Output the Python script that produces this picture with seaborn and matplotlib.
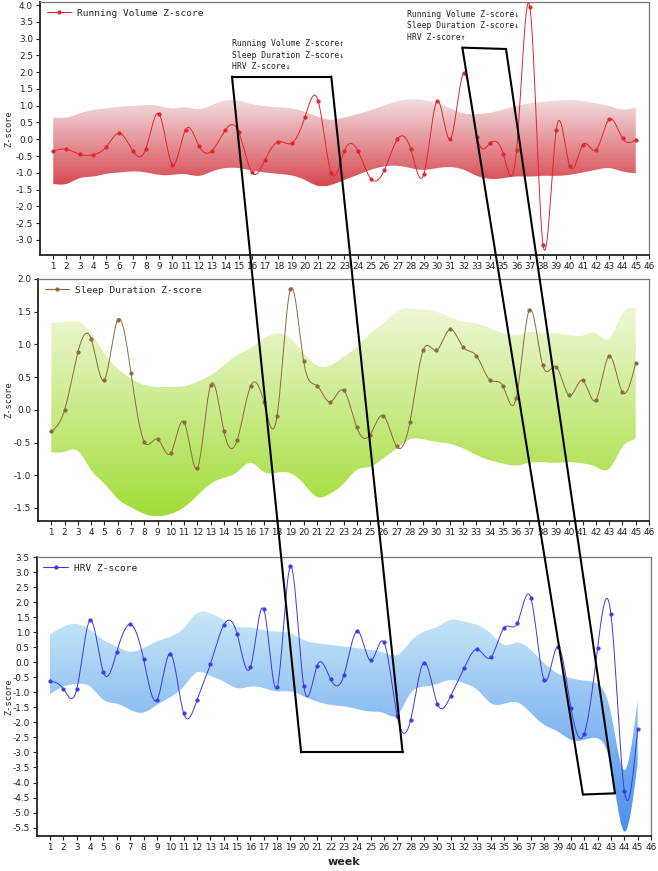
import numpy as np
import pandas as pd
import matplotlib
matplotlib.use("Agg")
import matplotlib.pyplot as plt
import seaborn as sns
from matplotlib.colors import LinearSegmentedColormap
from matplotlib.lines import Line2D
from matplotlib.patches import ConnectionPatch

# ---------------- data ----------------
weeks = np.arange(1, 46)

run_z = [-0.35, -0.30, -0.45, -0.46, -0.23, 0.18, -0.34, -0.28, 0.75, -0.76,
         0.29, -0.19, -0.34, 0.28, 0.22, -0.99, -0.61, -0.07, -0.12, 0.65,
         1.15, -1.01, -0.34, -0.34, -1.18, -0.93, 0.00, -0.29, -1.04, 1.14,
         0.00, 1.96, 0.08, -0.12, -0.45, -0.31, 3.95, -3.15, 0.28, -0.79,
         -0.17, -0.32, 0.60, 0.03, -0.02]
run_hi = [0.65, 0.65, 0.77, 0.87, 0.92, 0.97, 0.99, 1.02, 0.99, 0.92,
          0.95, 0.90, 1.02, 1.15, 1.15, 1.05, 0.99, 0.95, 0.92, 0.82,
          0.67, 0.58, 0.65, 0.75, 0.87, 1.01, 1.14, 1.19, 1.17, 1.07,
          0.92, 0.77, 0.75, 0.79, 0.89, 0.99, 1.07, 1.12, 1.15, 1.17,
          1.14, 1.07, 0.99, 0.89, 0.95]
run_lo = [-1.33, -1.33, -1.16, -1.11, -1.03, -0.99, -0.96, -0.99, -1.06, -1.06,
          -1.04, -1.09, -0.96, -0.86, -0.86, -0.93, -0.99, -1.03, -1.08, -1.21,
          -1.39, -1.36, -1.21, -1.06, -0.91, -0.81, -0.79, -0.86, -0.91, -0.86,
          -0.83, -0.91, -1.09, -1.18, -1.16, -1.11, -1.11, -1.09, -1.09, -1.06,
          -0.99, -0.91, -0.86, -0.96, -1.01]

sleep_z = [-0.33, 0.00, 0.88, 1.08, 0.46, 1.38, 0.56, -0.49, -0.45, -0.66,
           -0.19, -0.89, 0.38, -0.33, -0.46, 0.36, 0.12, -0.09, 1.84, 0.74,
           0.37, 0.12, 0.30, -0.27, -0.38, -0.09, -0.56, -0.19, 0.91, 0.91,
           1.23, 0.96, 0.83, 0.46, 0.36, 0.18, 1.53, 0.68, 0.66, 0.22,
           0.45, 0.15, 0.82, 0.27, 0.72]
sleep_hi = [1.33, 1.34, 1.35, 1.17, 0.86, 0.63, 0.48, 0.38, 0.35, 0.35,
            0.36, 0.43, 0.53, 0.68, 0.84, 0.94, 1.09, 1.17, 1.09, 0.86,
            0.68, 0.68, 0.81, 0.96, 1.17, 1.32, 1.50, 1.55, 1.53, 1.50,
            1.42, 1.35, 1.32, 1.25, 1.17, 1.14, 1.19, 1.17, 1.17, 1.14,
            1.14, 1.17, 1.09, 1.47, 1.55]
sleep_lo = [-0.65, -0.64, -0.63, -0.92, -1.13, -1.36, -1.49, -1.59, -1.63, -1.59,
            -1.49, -1.31, -1.13, -1.04, -0.95, -0.81, -0.95, -0.96, -0.97, -1.13,
            -1.33, -1.28, -1.13, -0.92, -0.87, -0.74, -0.59, -0.45, -0.45, -0.49,
            -0.52, -0.59, -0.69, -0.77, -0.82, -0.85, -0.81, -0.80, -0.81, -0.80,
            -0.82, -0.87, -0.90, -0.57, -0.45]

hrv_z = [-0.63, -0.89, -0.89, 1.40, -0.34, 0.35, 1.26, 0.11, -1.26, 0.29,
         -1.69, -1.26, -0.07, 1.23, 0.95, -0.17, 1.76, -0.84, 3.19, -0.80,
         -0.11, -0.56, -0.44, 1.04, 0.06, 0.66, -1.80, -1.92, -0.01, -1.38,
         -1.12, -0.20, 0.43, 0.16, 1.15, 1.32, 2.14, -0.59, 0.52, -1.51,
         -2.38, 0.49, 1.59, -4.27, -2.23]
hrv_hi = [0.93, 1.18, 1.27, 1.07, 0.74, 0.52, 0.35, 0.47, 0.69, 0.85,
          1.13, 1.63, 1.63, 1.41, 1.18, 1.16, 1.07, 1.02, 0.96, 0.74,
          0.63, 0.58, 0.52, 0.47, 0.41, 0.32, 0.24, 0.69, 1.02, 1.18,
          1.41, 1.35, 1.24, 0.96, 0.58, 0.65, 0.41, -0.03, -0.37, -0.53,
          -0.61, -0.72, -1.69, -3.58, -1.25]
hrv_lo = [-1.06, -0.81, -0.72, -0.81, -1.25, -1.38, -1.58, -1.67, -1.42, -1.16,
          -0.81, -0.34, -0.45, -0.64, -0.86, -0.81, -0.86, -0.97, -0.97, -1.14,
          -1.31, -1.42, -1.47, -1.56, -1.64, -1.69, -1.75, -1.03, -0.81, -0.72,
          -0.59, -0.70, -0.92, -1.36, -1.38, -1.34, -1.69, -2.08, -2.30, -2.58,
          -2.58, -2.53, -3.47, -5.63, -3.36]

labels = ["Running Volume Z-score", "Sleep Duration Z-score", "HRV Z-score"]

# highlighted windows: (week, z) corners, top in panel 1, bottom in panel 3
box1_top = [(14.5, 1.87), (22.0, 1.87)]
box1_bot = [(19.8, -3.0), (27.4, -3.0)]
box2_top = [(31.9, 2.73), (35.2, 2.69)]
box2_bot = [(40.9, -4.40), (43.3, -4.36)]

note1 = "Running Volume Z-score\u2191\nSleep Duration Z-score\u2193\nHRV Z-score\u2193"
note2 = "Running Volume Z-score\u2193\nSleep Duration Z-score\u2193\nHRV Z-score\u2191"


def spline(x, y, n=30):
    # natural cubic spline, just for drawing the smooth connect
    x = np.asarray(x, float)
    y = np.asarray(y, float)
    k = len(x)
    h = np.diff(x)
    A = np.zeros((k, k))
    b = np.zeros(k)
    A[0, 0] = A[-1, -1] = 1
    for i in range(1, k - 1):
        A[i, i - 1] = h[i - 1]
        A[i, i] = 2 * (h[i - 1] + h[i])
        A[i, i + 1] = h[i]
        b[i] = 6 * ((y[i + 1] - y[i]) / h[i] - (y[i] - y[i - 1]) / h[i - 1])
    M = np.linalg.solve(A, b)
    xs, ys = [], []
    for i in range(k - 1):
        t = np.linspace(x[i], x[i + 1], n, endpoint=(i == k - 2))
        a = (x[i + 1] - t) / h[i]
        c = (t - x[i]) / h[i]
        s = (a * y[i] + c * y[i + 1]
             + ((a ** 3 - a) * M[i] + (c ** 3 - c) * M[i + 1]) * h[i] ** 2 / 6)
        xs.append(t)
        ys.append(s)
    return np.concatenate(xs), np.concatenate(ys)


sns.set_theme(style="white")
plt.rcParams["axes.unicode_minus"] = False
plt.rcParams["font.family"] = ["DejaVu Sans"]
mono = "DejaVu Sans Mono"

fig = plt.figure(figsize=(6.58, 8.71), dpi=100)

panels = [
    # z, hi, lo, line colour, band top, band bottom, ylim, yticks, axes rect
    (run_z, run_hi, run_lo, "#e0262e", "#f3e0e2", "#d64750",
     (-3.45, 4.09), np.arange(-3.0, 4.01, 0.5), [0.0608, 0.7072, 0.9255, 0.2905]),
    (sleep_z, sleep_hi, sleep_lo, "#8a6b3d", "#eef8d6", "#a3dc38",
     (-1.70, 2.0), np.arange(-1.5, 2.01, 0.5), [0.0578, 0.4018, 0.9285, 0.2779]),
    (hrv_z, hrv_hi, hrv_lo, "#3a3ae8", "#c8e8f6", "#4a8eef",
     (-5.77, 3.5), np.arange(-5.5, 3.51, 0.5), [0.0558, 0.0405, 0.9336, 0.3200]),
]

axes = []
for (z, hi, lo, col, ctop, cbot, ylim, yt, rect), lab in zip(panels, labels):
    ax = fig.add_axes(rect)
    axes.append(ax)

    # gradient band
    bx, bhi = spline(weeks, hi)
    _, blo = spline(weeks, lo)
    band = ax.fill_between(bx, blo, bhi, color="none", lw=0)
    cmap = LinearSegmentedColormap.from_list("band", [cbot, ctop])
    grad = np.linspace(0, 1, 256).reshape(-1, 1)
    im = ax.imshow(grad, extent=[bx.min(), bx.max(), blo.min(), bhi.max()],
                   origin="lower", aspect="auto", cmap=cmap, zorder=1)
    im.set_clip_path(band.get_paths()[0], transform=ax.transData)

    # smooth line + points
    sx, sy = spline(weeks, z)
    curve = pd.DataFrame({"week": sx, "z": sy})
    sns.lineplot(data=curve, x="week", y="z", ax=ax, color=col, lw=0.7,
                 sort=False, estimator=None, zorder=3)
    pts = pd.DataFrame({"week": weeks, "z": z})
    sns.scatterplot(data=pts, x="week", y="z", ax=ax, color=col, s=7,
                    edgecolor=col, linewidth=0.3, zorder=4)

    handle = Line2D([], [], color=col, lw=0.8, marker="o", markersize=2)
    ax.legend([handle], [lab], loc="upper left", frameon=False,
              prop={"family": mono, "size": 6.8}, handlelength=2.6,
              handletextpad=0.6, borderaxespad=0.3)

    ax.set_xlim(0, 46)
    ax.set_ylim(*ylim)
    ax.set_xticks(range(1, 47))
    ax.set_yticks(yt)
    ax.set_yticklabels([f"{v:.1f}" for v in yt])
    ax.tick_params(axis="both", labelsize=6.4, length=3, width=0.8,
                   direction="out", pad=2, colors="#222222",
                   bottom=True, left=True)
    ax.set_xlabel("")
    ax.set_ylabel("Z-score", family=mono, fontsize=6.2)
    # label centred at about x = 9 px in the figure
    ax.yaxis.set_label_coords((9 - rect[0] * 658) / (rect[2] * 658), 0.5)
    ax.yaxis.label.set_va("center")
    for s in ["left", "bottom"]:
        ax.spines[s].set_color("#222222")
        ax.spines[s].set_linewidth(1.3)
    for s in ["top", "right"]:
        ax.spines[s].set_color("#777777")
        ax.spines[s].set_linewidth(0.9)

ax1, ax2, ax3 = axes
ax3.set_xlabel("week", fontsize=8, fontweight="bold", labelpad=4)

# notes above the highlighted windows
ax1.text(box1_top[0][0], 2.51, note1, family=mono, fontsize=5.9,
         va="center", ha="left", linespacing=1.35, zorder=6)
ax1.text(27.7, 3.38, note2, family=mono, fontsize=5.9,
         va="center", ha="left", linespacing=1.35, zorder=6)

# parallelograms across the three panels
for top, bot in [(box1_top, box1_bot), (box2_top, box2_bot)]:
    ax1.plot([top[0][0], top[1][0]], [top[0][1], top[1][1]], color="black",
             lw=1.5, clip_on=False, zorder=6)
    ax3.plot([bot[0][0], bot[1][0]], [bot[0][1], bot[1][1]], color="black",
             lw=1.5, clip_on=False, zorder=6)
    for a, b in zip(top, bot):
        con = ConnectionPatch(xyA=a, coordsA=ax1.transData, xyB=b,
                              coordsB=ax3.transData, color="black", lw=1.5,
                              zorder=10)
        fig.add_artist(con)

fig.savefig("out.png", dpi=100)
